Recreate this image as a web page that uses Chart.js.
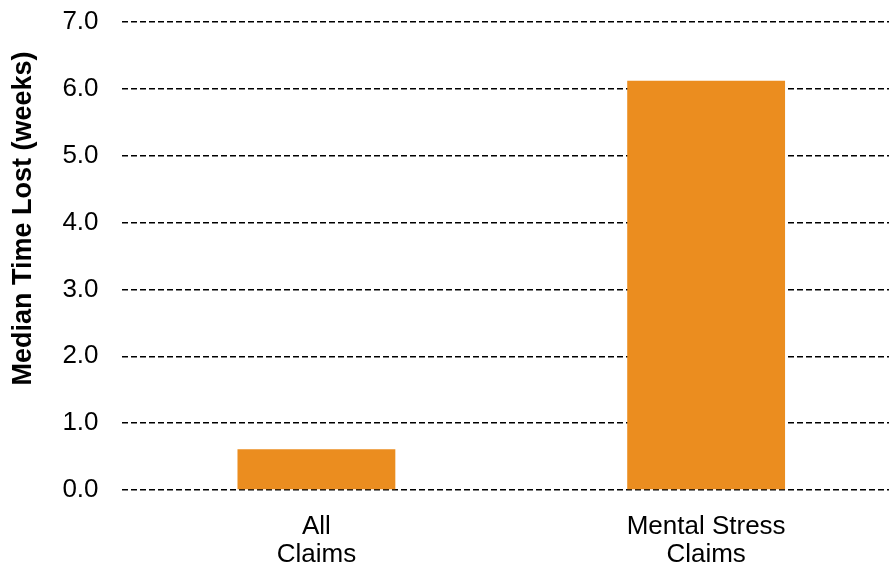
<!DOCTYPE html>
<html>
<head>
<meta charset="utf-8">
<script src="https://cdn.jsdelivr.net/npm/chart.js@4/dist/chart.umd.min.js"></script>
<style>
  html, body { margin:0; padding:0; background:#fff; overflow:hidden; }
  #wrap { width:901px; height:567px; position:relative; }
</style>
</head>
<body>
<div id="wrap"><canvas id="chart"></canvas></div>
<script>
// dados
const categorias = [['All','Claims'], ['Mental Stress','Claims']];
const medianas   = [0.61, 6.12];
const yTicks     = [0, 1, 2, 3, 4, 5, 6, 7];

const FONT = "'Liberation Sans', Arial, sans-serif";
const COR  = '#EB8D1F';
// espaços à esquerda empurram o título do eixo para cima, como no original
const TITULO_Y = '\u00a0'.repeat(10) + 'Median Time Lost (weeks)';

new Chart(document.getElementById('chart'), {
  type: 'bar',
  data: {
    labels: categorias,
    datasets: [{
      data: medianas,
      backgroundColor: COR,
      borderWidth: 0,
      barPercentage: 0.405,
      categoryPercentage: 1,
    }],
  },
  options: {
    responsive: true,
    maintainAspectRatio: false,
    animation: false,
    layout: { padding: { top: 22, left: 7, right: 0, bottom: 0 } },
    plugins: { legend: { display:false }, tooltip: { enabled:false } },
    scales: {
      x: {
        grid: { display:false },
        border: { display:false },
        afterFit: s => { s.height = 77; },
        ticks: { color:'#000', font:{ family:FONT, size:26, lineHeight:1.08 }, padding:15, maxRotation:0 },
      },
      y: {
        min: 0, max: 7,
        afterBuildTicks: s => { s.ticks = yTicks.map(v => ({ value:v })); },
        afterFit: s => { s.paddingTop = 0; s.paddingBottom = 0; },
        grid: { color:'#000', lineWidth:1.5, drawTicks:false },
        border: { display:false, dash:[6,3] },
        ticks: { color:'#000', font:{ family:FONT, size:26 }, padding:23, callback: v => v.toFixed(1) },
        title: { display:true, text:TITULO_Y, color:'#000',
                 font:{ family:FONT, size:27, weight:'bold' }, padding:{ top:0, bottom:0 } },
      },
    },
  },
});
</script>
</body>
</html>
